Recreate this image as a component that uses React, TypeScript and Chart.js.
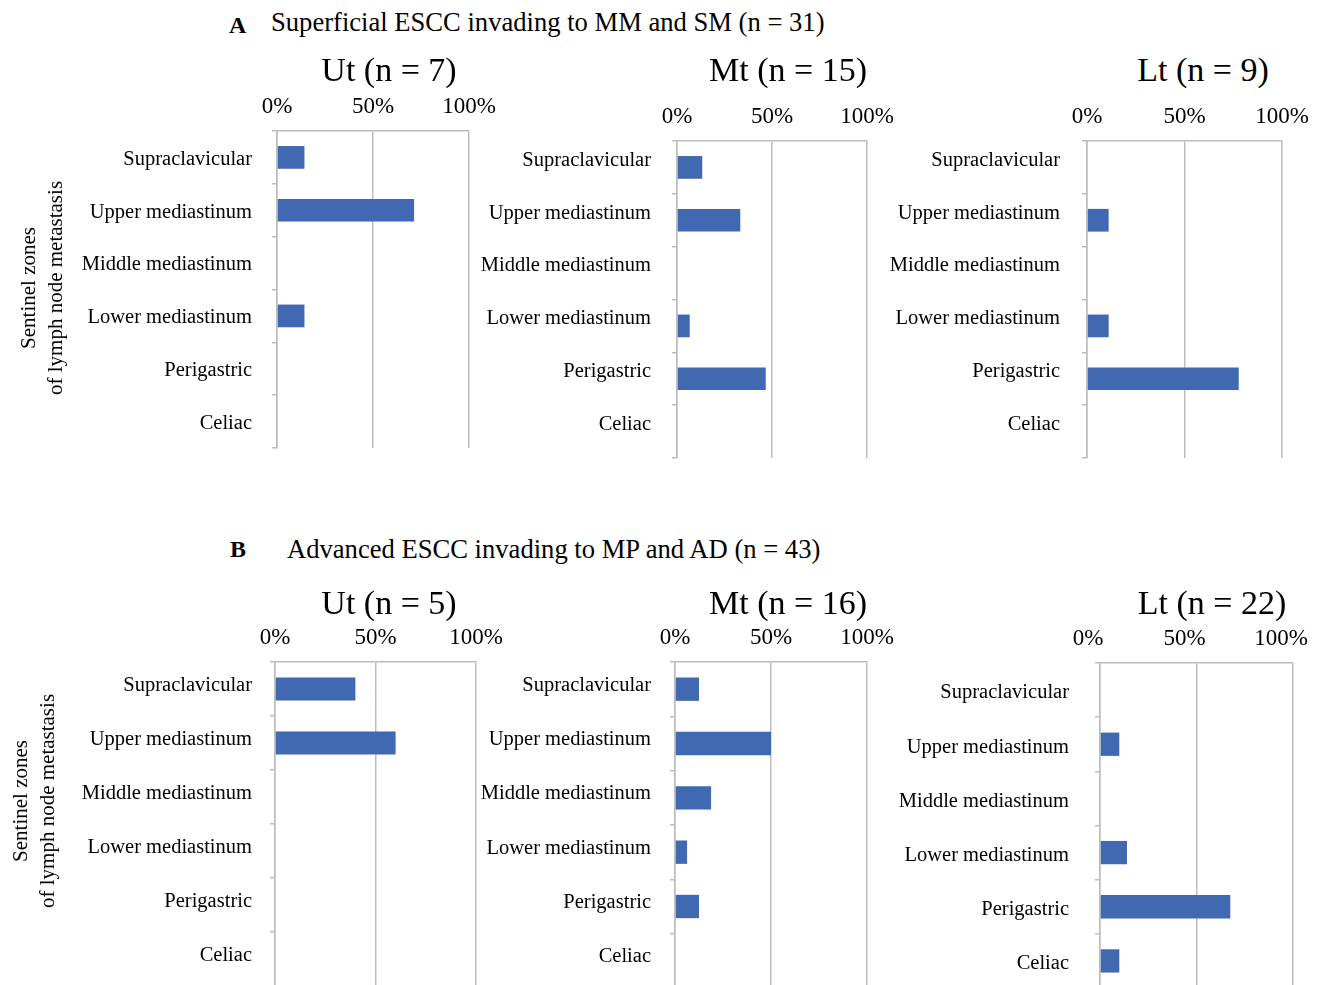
import React, { useEffect, useRef } from "react";
import { Chart, registerables } from "chart.js";

Chart.register(...registerables);

// ---------- data ----------
const categories = [
  "Supraclavicular",
  "Upper mediastinum",
  "Middle mediastinum",
  "Lower mediastinum",
  "Perigastric",
  "Celiac",
];
const xTickValues = [0, 50, 100];

const superficialUt = [14.3, 71.4, 0, 14.3, 0, 0];
const superficialMt = [13.3, 33.3, 0, 6.7, 46.7, 0];
const superficialLt = [0, 11.1, 0, 11.1, 77.8, 0];
const advancedUt = [40, 60, 0, 0, 0, 0];
const advancedMt = [12.5, 50, 18.8, 6.3, 12.5, 0];
const advancedLt = [0, 10, 0, 14, 67.5, 10];

const groupTitleA = "Superficial ESCC invading to MM and SM (n = 31)";
const groupTitleB = "Advanced ESCC invading to MP and AD (n = 43)";
const panelTitlesA = ["Ut (n = 7)", "Mt (n = 15)", "Lt (n = 9)"];
const panelTitlesB = ["Ut (n = 5)", "Mt (n = 16)", "Lt (n = 22)"];
const yTitleLines = ["Sentinel zones", "of lymph node metastasis"];

// ---------- style / layout ----------
const FONT = '"Liberation Serif", "Times New Roman", Times, serif';
const GRID = "#bdbdbd";
const BAR = "#4169b1";
const YW = 240;
const XH = 50;
const PADR = 60;
const PADB = 50;

type PanelProps = {
  values: number[];
  left: number;
  top: number;
  right: number;
  bottom: number;
  gap: number;
  labelShift: number;
  xShift: number;
};

function Panel({ values, left, top, right, bottom, gap, labelShift, xShift }: PanelProps) {
  const ref = useRef<HTMLCanvasElement>(null);
  const W = YW + (right - left) + PADR;
  const H = XH + (bottom - top) + PADB;
  useEffect(() => {
    const chart = new Chart(ref.current as HTMLCanvasElement, {
      type: "bar",
      data: {
        labels: categories,
        datasets: [
          {
            data: values,
            backgroundColor: BAR,
            borderWidth: 0,
            barPercentage: 0.43,
            categoryPercentage: 1,
          },
        ],
      },
      options: {
        indexAxis: "y",
        responsive: false,
        animation: false,
        layout: { padding: { left: 0, top: 0, right: PADR, bottom: PADB } },
        plugins: {
          legend: { display: false },
          tooltip: { enabled: false },
          title: { display: false },
        },
        scales: {
          x: {
            position: "top",
            min: 0,
            max: 100,
            afterBuildTicks: (axis: any) => {
              axis.ticks = xTickValues.map((v) => ({ value: v }));
            },
            afterFit: (s: any) => {
              s.height = XH;
            },
            ticks: {
              callback: (v: any) => v + "%",
              padding: 10,
              labelOffset: xShift,
              color: "#000",
              font: { family: FONT, size: 23 },
              maxRotation: 0,
              autoSkip: false,
            },
            grid: { color: GRID, lineWidth: 1.5, drawTicks: false },
            border: { display: true, color: GRID, width: 1.5 },
          },
          y: {
            afterFit: (s: any) => {
              s.width = YW;
            },
            ticks: {
              padding: gap - 5,
              labelOffset: labelShift,
              color: "#000",
              font: { family: FONT, size: 20.5 },
              autoSkip: false,
            },
            grid: {
              drawOnChartArea: false,
              drawTicks: true,
              tickLength: 5,
              color: GRID,
              lineWidth: 1.5,
              offset: true,
            },
            border: { display: true, color: GRID, width: 1.5 },
          },
        },
      } as any,
    });
    return () => chart.destroy();
  }, []);
  return (
    <canvas
      ref={ref}
      width={W}
      height={H}
      style={{ position: "absolute", left: left - YW, top: top - XH, width: W, height: H }}
    />
  );
}

const panels = [
  { values: superficialUt, left: 277, top: 131, right: 469, bottom: 448, gap: 25, labelShift: 2, xShift: 0 },
  { values: superficialMt, left: 677, top: 141, right: 867, bottom: 458, gap: 26, labelShift: -7, xShift: 0 },
  { values: superficialLt, left: 1087, top: 141, right: 1282, bottom: 458, gap: 27, labelShift: -7, xShift: 0 },
  { values: advancedUt, left: 275, top: 662, right: 476, bottom: 986, gap: 23, labelShift: -3, xShift: 0 },
  { values: advancedMt, left: 675, top: 662, right: 867, bottom: 988, gap: 24, labelShift: -4, xShift: 0 },
  { values: advancedLt, left: 1100, top: 663, right: 1293, bottom: 988, gap: 31, labelShift: 3, xShift: -12 },
];

const panelTitlePos = [
  { titles: panelTitlesA, xs: [389, 788, 1203], y: 70 },
  { titles: panelTitlesB, xs: [389, 788, 1212], y: 603 },
];

function Text({ x, y, size, children, bold, center }: any) {
  return (
    <div
      style={{
        position: "absolute",
        left: x,
        top: y,
        transform: center ? "translate(-50%, -50%)" : "translateY(-50%)",
        fontFamily: FONT,
        fontSize: size,
        fontWeight: bold ? "bold" : "normal",
        lineHeight: 1,
        whiteSpace: "nowrap",
        color: "#000",
      }}
    >
      {children}
    </div>
  );
}

function YTitle({ x, y }: { x: number; y: number }) {
  return (
    <div
      style={{
        position: "absolute",
        left: x,
        top: y,
        transform: "translate(-50%, -50%) rotate(-90deg)",
        fontFamily: FONT,
        fontSize: 21,
        lineHeight: "27px",
        textAlign: "center",
        whiteSpace: "nowrap",
        color: "#000",
      }}
    >
      {yTitleLines.map((l, i) => (
        <div key={i}>{l}</div>
      ))}
    </div>
  );
}

export default function App() {
  return (
    <div
      style={{
        position: "fixed",
        left: 0,
        top: 0,
        width: 1318,
        height: 985,
        overflow: "hidden",
        background: "#fff",
      }}
    >
      {panels.map((p, i) => (
        <Panel key={i} {...p} />
      ))}
      <Text x={229} y={25} size={24} bold>
        A
      </Text>
      <Text x={271} y={22} size={26.6}>
        {groupTitleA}
      </Text>
      <Text x={230} y={549} size={24} bold>
        B
      </Text>
      <Text x={287} y={549} size={26.6}>
        {groupTitleB}
      </Text>
      {panelTitlePos.map((g, gi) =>
        g.titles.map((t, i) => (
          <Text key={gi + "-" + i} x={g.xs[i]} y={g.y} size={34} center>
            {t}
          </Text>
        ))
      )}
      <YTitle x={41.5} y={288} />
      <YTitle x={33.5} y={801} />
    </div>
  );
}
